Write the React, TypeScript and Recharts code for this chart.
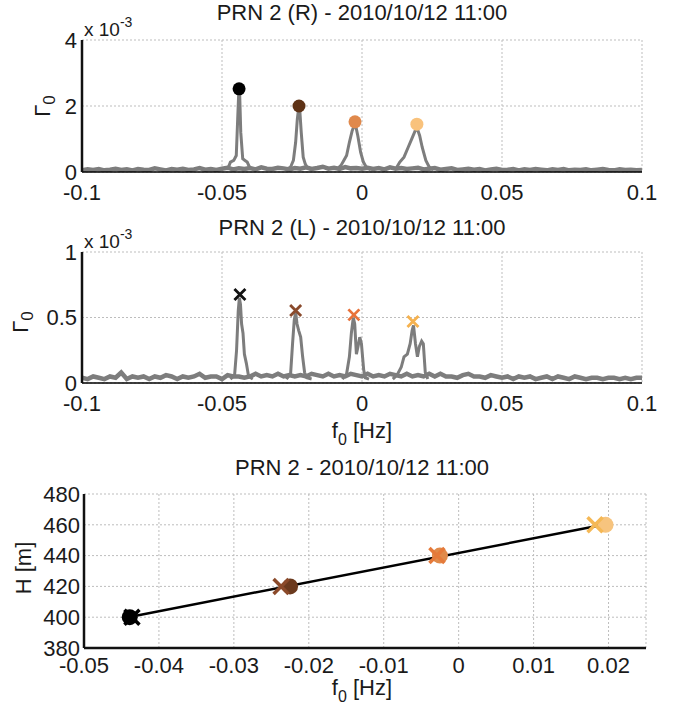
import React from "react";
import { ComposedChart, Line, Scatter, XAxis, YAxis, CartesianGrid } from "recharts";

// ---------- data ----------
const FREQ_START = -0.1;
const FREQ_STEP = 0.002;
const FREQ_TICKS = [-0.1, -0.05, 0, 0.05, 0.1];
const R_TICKS = [0, 2, 4]; // x 10^-3
const L_TICKS = [0, 0.5, 1]; // x 10^-3
const H_TICKS = [380, 400, 420, 440, 460, 480];
const F_TICKS_BOTTOM = [-0.05, -0.04, -0.03, -0.02, -0.01, 0, 0.01, 0.02];

// background noise of the spectra (x 10^-3), one value per FREQ_STEP
const R_BASE = [
  0.05, 0.08, 0.06, 0.09, 0.05, 0.07, 0.1, 0.06, 0.08, 0.05,
  0.09, 0.07, 0.06, 0.11, 0.08, 0.05, 0.09, 0.07, 0.1, 0.06,
  0.08, 0.12, 0.07, 0.09, 0.06, 0.1, 0.13, 0.08, 0.11, 0.09,
  0.12, 0.08, 0.14, 0.1, 0.09, 0.13, 0.11, 0.08, 0.12, 0.1,
  0.14, 0.09, 0.12, 0.16, 0.1, 0.13, 0.09, 0.15, 0.11, 0.12,
  0.1, 0.13, 0.09, 0.12, 0.08, 0.14, 0.1, 0.12, 0.09, 0.11,
  0.13, 0.08, 0.1, 0.12, 0.07, 0.09, 0.11, 0.06, 0.08, 0.1,
  0.07, 0.09, 0.05, 0.08, 0.1, 0.06, 0.07, 0.09, 0.05, 0.08,
  0.06, 0.09, 0.07, 0.05, 0.08, 0.06, 0.09, 0.05, 0.07, 0.06,
  0.08, 0.05, 0.07, 0.09, 0.06, 0.05, 0.08, 0.06, 0.07, 0.05,
  0.06,
];
const L_BASE = [
  0.04, 0.03, 0.05, 0.04, 0.03, 0.05, 0.04, 0.08, 0.03, 0.05,
  0.04, 0.05, 0.03, 0.05, 0.04, 0.06, 0.05, 0.03, 0.05, 0.04,
  0.05, 0.07, 0.04, 0.05, 0.05, 0.03, 0.06, 0.05, 0.05, 0.04,
  0.05, 0.07, 0.05, 0.06, 0.05, 0.07, 0.05, 0.06, 0.05, 0.06,
  0.05, 0.07, 0.06, 0.05, 0.07, 0.05, 0.06, 0.05, 0.07, 0.06,
  0.05, 0.07, 0.05, 0.06, 0.05, 0.07, 0.06, 0.05, 0.07, 0.05,
  0.06, 0.05, 0.07, 0.05, 0.07, 0.05, 0.05, 0.04, 0.06, 0.07,
  0.05, 0.05, 0.04, 0.06, 0.05, 0.04, 0.05, 0.03, 0.05, 0.04,
  0.05, 0.03, 0.04, 0.05, 0.03, 0.05, 0.04, 0.03, 0.05, 0.04,
  0.03, 0.04, 0.04, 0.03, 0.04, 0.04, 0.03, 0.04, 0.03, 0.04,
  0.04,
];

// R-polarisation peaks (x 10^-3)
const R_P1_F = [-0.048, -0.047, -0.0458, -0.0449, -0.0444, -0.044, -0.0437, -0.0433, -0.0426, -0.0418, -0.041, -0.0398];
const R_P1_V = [0.08, 0.3, 0.35, 0.5, 1.6, 2.45, 2.4, 1.2, 0.4, 0.35, 0.3, 0.08];
const R_P2_F = [-0.027, -0.0255, -0.0245, -0.0237, -0.0231, -0.0226, -0.0222, -0.0217, -0.021, -0.0203, -0.0195, -0.018];
const R_P2_V = [0.08, 0.15, 0.35, 0.9, 1.6, 1.95, 1.85, 1.2, 0.45, 0.25, 0.12, 0.07];
const R_P3_F = [-0.009, -0.0075, -0.0065, -0.0055, -0.0045, -0.0035, -0.0028, -0.0022, -0.0015, -0.0005, 0.0005, 0.0015, 0.003];
const R_P3_V = [0.08, 0.2, 0.35, 0.5, 0.9, 1.25, 1.4, 1.38, 1.1, 0.6, 0.3, 0.15, 0.07];
const R_P4_F = [0.012, 0.0135, 0.015, 0.0165, 0.018, 0.019, 0.0198, 0.0206, 0.0215, 0.0228, 0.024, 0.0255];
const R_P4_V = [0.08, 0.3, 0.45, 0.75, 1.05, 1.25, 1.3, 1.1, 0.75, 0.35, 0.15, 0.07];

// L-polarisation peaks (x 10^-3)
const L_P1_F = [-0.047, -0.0455, -0.0448, -0.0442, -0.0438, -0.0434, -0.043, -0.0425, -0.042, -0.0413, -0.0405, -0.039];
const L_P1_V = [0.03, 0.06, 0.25, 0.55, 0.65, 0.6, 0.45, 0.38, 0.22, 0.15, 0.05, 0.03];
const L_P2_F = [-0.027, -0.0255, -0.0248, -0.0242, -0.0237, -0.0232, -0.0226, -0.0219, -0.0212, -0.0205, -0.0197, -0.018];
const L_P2_V = [0.03, 0.07, 0.3, 0.48, 0.54, 0.45, 0.4, 0.35, 0.2, 0.08, 0.04, 0.03];
const L_P3_F = [-0.007, -0.0055, -0.0045, -0.0038, -0.0031, -0.0026, -0.002, -0.0014, -0.0008, -0.0002, 0.0006, 0.0012, 0.0025];
const L_P3_V = [0.03, 0.07, 0.2, 0.38, 0.5, 0.45, 0.22, 0.28, 0.35, 0.3, 0.1, 0.04, 0.03];
const L_P4_F = [0.011, 0.0125, 0.014, 0.015, 0.0162, 0.0172, 0.0179, 0.0184, 0.0191, 0.0198, 0.0205, 0.0213, 0.0219, 0.0226, 0.0235];
const L_P4_V = [0.03, 0.06, 0.12, 0.2, 0.22, 0.3, 0.4, 0.44, 0.3, 0.2, 0.28, 0.32, 0.3, 0.08, 0.03];

// detected peaks
const R_PEAK_F = [-0.0439, -0.0225, -0.0025, 0.0196];
const R_PEAK_V = [2.52, 2.0, 1.52, 1.45];
const L_PEAK_F = [-0.0436, -0.0237, -0.0029, 0.0182];
const L_PEAK_V = [0.675, 0.553, 0.52, 0.47];
const HEIGHTS = [400, 420, 440, 460];
const FIT_F = [-0.0441, 0.0193];
const FIT_H = [400, 460];

// ---------- styles ----------
const FONT = "'Liberation Sans', Arial, Helvetica, sans-serif";
const SPEC_GRAY = "#7d7d7d";
const R_COLORS = ["#000000", "#5e3216", "#e0894c", "#f9c27c"];
const L_COLORS = ["#111111", "#8a4a2c", "#e8723a", "#f6b24f"];
const B_CIRCLE = ["#000000", "#6b3a1e", "#e08a4a", "#f7c47e"];
const B_CROSS = ["#000000", "#8b4a2a", "#e57a3a", "#f5b855"];

const zip = (f: number[], v: number[]) => f.map((x, i) => ({ x, y: v[i] }));
const baseSeries = (vals: number[]) =>
  vals.map((y, i) => ({ x: +(FREQ_START + i * FREQ_STEP).toFixed(4), y }));

const tickStyle = { fill: "#1a1a1a", fontSize: 22, fontFamily: FONT };

const circleShape = (r: number) => (p: any) => (
  <circle cx={p.cx} cy={p.cy} r={r} fill={p.fill} stroke="none" />
);
const crossShape = (s: number, w: number) => (p: any) => (
  <path
    d={`M${p.cx - s},${p.cy - s}L${p.cx + s},${p.cy + s}M${p.cx - s},${p.cy + s}L${p.cx + s},${p.cy - s}`}
    stroke={p.fill}
    strokeWidth={w}
    fill="none"
  />
);

const Title = ({ top, text }: { top: number; text: string }) => (
  <div
    style={{
      position: "absolute",
      top,
      left: 62,
      width: 600,
      textAlign: "center",
      fontFamily: FONT,
      fontSize: 22,
      lineHeight: "26px",
      color: "#1a1a1a",
      whiteSpace: "nowrap",
    }}
  >
    {text}
  </div>
);

const Exponent = ({ top }: { top: number }) => (
  <div
    style={{
      position: "absolute",
      top,
      left: 84,
      fontFamily: FONT,
      fontSize: 19,
      lineHeight: "20px",
      color: "#1a1a1a",
      whiteSpace: "nowrap",
    }}
  >
    x 10<sup style={{ fontSize: 14, verticalAlign: "9px" }}>-3</sup>
  </div>
);

const RotLabel = ({ cx, cy, children }: { cx: number; cy: number; children: React.ReactNode }) => (
  <div
    style={{
      position: "absolute",
      left: cx - 60,
      top: cy - 14,
      width: 120,
      height: 28,
      textAlign: "center",
      fontFamily: FONT,
      fontSize: 22,
      lineHeight: "28px",
      color: "#1a1a1a",
      transform: "rotate(-90deg)",
      whiteSpace: "nowrap",
    }}
  >
    {children}
  </div>
);

const FLabel = ({ top }: { top: number }) => (
  <div
    style={{
      position: "absolute",
      top,
      left: 82,
      width: 560,
      textAlign: "center",
      fontFamily: FONT,
      fontSize: 22,
      lineHeight: "24px",
      color: "#1a1a1a",
      whiteSpace: "nowrap",
    }}
  >
    f<sub style={{ fontSize: 16, verticalAlign: "-7px" }}>0</sub> [Hz]
  </div>
);

const SpectrumChart = ({
  top,
  height,
  plotTop,
  yDomain,
  yTicks,
  base,
  peaks,
  markF,
  markV,
  colors,
  marker,
}: any) => (
  <div style={{ position: "absolute", top, left: 0 }}>
    <ComposedChart width={677} height={height} margin={{ top: plotTop, right: 35, left: 0, bottom: 0 }}>
      <CartesianGrid stroke="#bdbdbd" strokeDasharray="2 2" />
      <XAxis
        type="number"
        dataKey="x"
        domain={[-0.1, 0.1]}
        ticks={FREQ_TICKS}
        allowDataOverflow
        height={40}
        tickLine={false}
        tickSize={0}
        tickMargin={12}
        axisLine={{ stroke: "#000", strokeWidth: 1.5 }}
        tick={tickStyle}
        interval={0}
      />
      <YAxis
        type="number"
        dataKey="y"
        domain={yDomain}
        ticks={yTicks}
        allowDataOverflow
        width={82}
        tickLine={false}
        tickSize={0}
        tickMargin={5}
        axisLine={{ stroke: "#111", strokeWidth: 2.5 }}
        tick={tickStyle}
        interval={0}
      />
      <Line data={base} dataKey="y" stroke={SPEC_GRAY} strokeWidth={4.5} dot={false} isAnimationActive={false} />
      {peaks.map((pk: any, i: number) => (
        <Line key={"p" + i} data={pk} dataKey="y" stroke={SPEC_GRAY} strokeWidth={3} dot={false} isAnimationActive={false} />
      ))}
      {markF.map((f: number, i: number) => (
        <Scatter
          key={"m" + i}
          data={[{ x: f, y: markV[i] }]}
          dataKey="y"
          fill={colors[i]}
          shape={marker}
          isAnimationActive={false}
        />
      ))}
    </ComposedChart>
  </div>
);

export default function App() {
  const rPeaks = [zip(R_P1_F, R_P1_V), zip(R_P2_F, R_P2_V), zip(R_P3_F, R_P3_V), zip(R_P4_F, R_P4_V)];
  const lPeaks = [zip(L_P1_F, L_P1_V), zip(L_P2_F, L_P2_V), zip(L_P3_F, L_P3_V), zip(L_P4_F, L_P4_V)];
  const fit = zip(FIT_F, FIT_H);

  return (
    <div style={{ position: "absolute", top: 0, left: 0, width: 677, height: 706, background: "#fff", overflow: "hidden" }}>
      <SpectrumChart
        top={0}
        height={212}
        plotTop={40}
        yDomain={[0, 4]}
        yTicks={R_TICKS}
        base={baseSeries(R_BASE)}
        peaks={rPeaks}
        markF={R_PEAK_F}
        markV={R_PEAK_V}
        colors={R_COLORS}
        marker={circleShape(6.5)}
      />
      <SpectrumChart
        top={200}
        height={223}
        plotTop={52}
        yDomain={[0, 1]}
        yTicks={L_TICKS}
        base={baseSeries(L_BASE)}
        peaks={lPeaks}
        markF={L_PEAK_F}
        markV={L_PEAK_V}
        colors={L_COLORS}
        marker={crossShape(5.5, 2.8)}
      />
      <div style={{ position: "absolute", top: 450, left: 0 }}>
        <ComposedChart width={677} height={238} margin={{ top: 44, right: 31, left: 0, bottom: 0 }}>
          <CartesianGrid stroke="#bdbdbd" strokeDasharray="2 2" />
          <XAxis
            type="number"
            dataKey="x"
            domain={[-0.05, 0.025]}
            ticks={F_TICKS_BOTTOM}
            allowDataOverflow
            height={40}
            tickLine={false}
            tickSize={0}
            tickMargin={9}
            axisLine={{ stroke: "#111", strokeWidth: 2.5 }}
            tick={tickStyle}
            interval={0}
          />
          <YAxis
            type="number"
            dataKey="y"
            domain={[380, 480]}
            ticks={H_TICKS}
            allowDataOverflow
            width={84}
            tickLine={false}
            tickSize={0}
            tickMargin={4}
            axisLine={{ stroke: "#111", strokeWidth: 2.5 }}
            tick={tickStyle}
            interval={0}
          />
          {R_PEAK_F.map((f, i) => (
            <Scatter
              key={"c" + i}
              data={[{ x: f, y: HEIGHTS[i] }]}
              dataKey="y"
              fill={B_CIRCLE[i]}
              shape={circleShape(8)}
              isAnimationActive={false}
            />
          ))}
          {L_PEAK_F.map((f, i) => (
            <Scatter
              key={"x" + i}
              data={[{ x: f, y: HEIGHTS[i] }]}
              dataKey="y"
              fill={B_CROSS[i]}
              shape={crossShape(7.5, 3.5)}
              isAnimationActive={false}
            />
          ))}
          <Line data={fit} dataKey="y" stroke="#000" strokeWidth={2.5} dot={false} isAnimationActive={false} />
        </ComposedChart>
      </div>

      <Title top={0} text="PRN 2 (R) - 2010/10/12 11:00" />
      <Exponent top={12} />
      <RotLabel cx={43} cy={106}>
        Γ<sub style={{ fontSize: 17, verticalAlign: "-5px" }}>0</sub>
      </RotLabel>

      <Title top={215} text="PRN 2 (L) - 2010/10/12 11:00" />
      <Exponent top={224} />
      <RotLabel cx={21} cy={322}>
        Γ<sub style={{ fontSize: 17, verticalAlign: "-5px" }}>0</sub>
      </RotLabel>
      <FLabel top={419} />

      <Title top={455} text="PRN 2 - 2010/10/12 11:00" />
      <RotLabel cx={24} cy={568}>
        H [m]
      </RotLabel>
      <FLabel top={676} />
    </div>
  );
}
